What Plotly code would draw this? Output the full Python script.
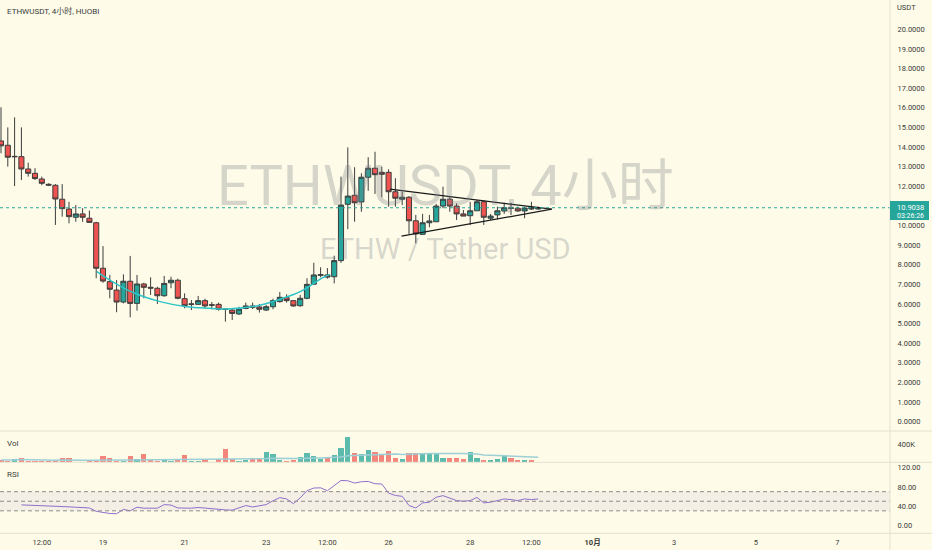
import plotly.graph_objects as go
import pandas as pd

# ---------------- data ----------------
symbol_title = "ETHWUSDT, 4小时, HUOBI"
wm_line1 = "ETHWUSDT, 4小时"
wm_line2 = "ETHW / Tether USD"
start_time = "2022-09-16 12:00"   # first visible 4h candle

opens = [14.31, 14.09, 13.50, 13.51, 12.88, 12.66, 12.37, 12.10, 12.05, 11.34,
         10.84, 10.42, 10.59, 10.37, 10.14, 7.82, 7.14, 6.71, 6.10, 7.16,
         6.03, 7.02, 6.85, 6.80, 6.42, 7.08, 7.21, 6.27, 5.98, 5.98,
         6.17, 5.96, 5.98, 5.74, 5.69, 5.49, 5.77, 5.90, 5.85, 5.69,
         5.86, 6.12, 6.32, 6.17, 5.91, 6.29, 7.01, 7.46, 7.48, 7.39,
         8.21, 11.08, 11.54, 11.20, 12.46, 12.92, 12.71, 12.71, 11.72, 11.34,
         11.44, 10.24, 9.55, 10.14, 10.19, 10.99, 11.34, 10.99, 10.59, 10.50,
         10.75, 11.21, 10.37, 10.54, 10.74, 10.90, 10.88, 10.74, 10.91, 10.84]
highs = [16.03, 15.00, 15.51, 15.00, 13.20, 12.92, 12.49, 12.15, 12.11, 12.11,
         11.21, 11.04, 10.88, 10.76, 10.19, 8.95, 7.48, 7.22, 7.51, 8.45,
         7.48, 7.08, 7.36, 6.88, 7.43, 7.39, 7.29, 6.54, 6.20, 6.41,
         6.27, 6.10, 6.07, 5.78, 5.78, 5.86, 6.07, 6.07, 6.00, 5.95,
         6.27, 6.61, 6.49, 6.20, 6.46, 7.31, 8.10, 7.87, 7.83, 8.46,
         12.49, 13.98, 12.97, 12.66, 13.48, 13.76, 13.00, 12.86, 12.41, 11.72,
         11.50, 10.54, 10.59, 10.54, 11.10, 11.98, 11.47, 11.13, 10.79, 11.21,
         11.30, 11.30, 10.59, 10.96, 11.16, 11.16, 10.96, 10.96, 11.21, 10.96]
lows = [13.68, 13.00, 12.01, 12.32, 12.49, 12.32, 12.05, 12.01, 10.03, 10.45,
        10.11, 10.19, 10.19, 10.14, 7.31, 7.08, 6.29, 5.58, 6.03, 5.32,
        5.66, 6.29, 6.46, 6.00, 6.37, 6.80, 6.24, 5.78, 5.69, 5.95,
        5.78, 5.73, 5.66, 5.10, 5.18, 5.44, 5.73, 5.74, 5.56, 5.64,
        5.73, 6.07, 6.07, 5.86, 5.86, 6.24, 6.97, 7.36, 7.29, 7.05,
        8.10, 9.81, 10.19, 10.70, 11.77, 11.61, 11.44, 10.96, 10.96, 11.04,
        9.57, 9.09, 9.52, 9.91, 10.19, 10.88, 10.70, 10.28, 10.48, 10.03,
        10.75, 10.03, 10.28, 10.32, 10.59, 10.54, 10.70, 10.37, 10.79, 10.80]
closes = [14.06, 13.48, 13.52, 12.88, 12.66, 12.39, 12.15, 12.06, 11.35, 10.86,
          10.45, 10.59, 10.42, 10.16, 7.82, 7.17, 6.75, 6.10, 7.16, 6.03,
          7.02, 6.85, 6.81, 6.42, 7.05, 7.21, 6.29, 5.91, 6.00, 6.17,
          5.90, 5.94, 5.73, 5.72, 5.52, 5.74, 5.90, 5.83, 5.73, 5.86,
          6.17, 6.34, 6.17, 5.90, 6.29, 7.00, 7.48, 7.49, 7.37, 8.21,
          11.04, 11.50, 11.16, 12.46, 12.92, 12.59, 12.61, 11.72, 11.39, 11.44,
          10.24, 9.57, 10.14, 10.23, 10.99, 11.34, 10.99, 10.59, 10.48, 10.75,
          11.21, 10.42, 10.48, 10.75, 10.91, 10.88, 10.74, 10.89, 10.84, 10.9038]
volumes_k = [53, 38, 69, 99, 30, 23, 23, 23, 30, 99,
             99, 15, 8, 23, 23, 130, 99, 23, 23, 130,
             69, 190, 53, 23, 69, 38, 69, 168, 23, 23,
             69, 15, 69, 297, 69, 30, 53, 69, 69, 221,
             190, 57, 33, 57, 114, 204, 139, 73, 98, 155,
             318, 563, 204, 180, 286, 237, 180, 253, 98, 73,
             204, 204, 204, 204, 180, 98, 98, 98, 73, 220,
             98, 57, 57, 73, 139, 98, 41, 41, 57, 8]
rsi = [None, None, None, 42.4, 42.0, 41.5, 41.0, 40.5, 39.5, 39.0,
       38.3, 37.5, 37.0, 36.0, 29.0, 26.5, 24.5, 24.0, 33.0, 30.0,
       37.6, 35.5, 35.5, 35.5, 43.0, 42.0, 36.0, 35.5, 35.5, 37.0,
       35.5, 35.0, 34.0, 32.0, 31.4, 37.0, 41.0, 38.0, 40.0, 43.0,
       51.0, 57.6, 54.8, 45.0, 57.0, 72.0, 77.6, 78.0, 72.0, 82.4,
       93.4, 92.8, 88.0, 90.7, 91.4, 86.5, 86.0, 67.0, 62.0, 60.3,
       41.0, 36.0, 46.6, 48.0, 58.3, 61.7, 57.0, 51.4, 50.0, 51.4,
       58.0, 46.6, 48.0, 52.0, 54.8, 53.4, 51.4, 54.8, 53.4, 54.8]
last_price = 10.9038
countdown = "03:26:26"

# drawings (candle index, price)
tri_upper_idx = [57.2, 81.0]
tri_upper_px = [11.85, 10.83]
tri_lower_idx = [58.9, 81.0]
tri_lower_px = [9.46, 10.83]
arc_idx = [14.1, 16.0, 19.5, 23.4, 27.3, 30.7, 33.2, 37.6, 41.0, 44.0, 47.4, 48.4]
arc_px = [7.65, 7.22, 6.57, 6.12, 5.86, 5.78, 5.74, 5.90, 6.24, 6.63, 7.36, 7.51]

price_ticks = list(range(0, 21))
vol_ticks = [400000]
vol_tick_text = ["400K"]
rsi_ticks = [0, 40, 80, 120]
rsi_levels = [70, 50, 30]
x_tick_vals = ["2022-09-17 12:00", "2022-09-19", "2022-09-21", "2022-09-23",
               "2022-09-24 12:00", "2022-09-26", "2022-09-28", "2022-09-29 12:00",
               "2022-10-01", "2022-10-03", "2022-10-05", "2022-10-07"]
x_tick_text = ["12:00", "19", "21", "23", "12:00", "26", "28", "12:00",
               "<b>10月</b>", "3", "5", "7"]

# ---------------- styling / geometry ----------------
W, H = 932, 550
BG = "#FEFCE8"
UP = "#26A69A"
DOWN = "#EF5350"
EDGE = "#3c3c3c"
SEP = "#E4E2CF"
TXT = "#3b3b3b"
FONT = "Roboto, Noto Sans CJK SC, sans-serif"
PLOT_R = 890          # px, right edge of plot area
BAR_PX = 6.8          # px per 4h bar
P_BOT, V_BOT, R_BOT = 431, 462.3, 533.3

def py(px):
    return 1 - px / H

t0 = pd.Timestamp(start_time)
bar = pd.Timedelta(hours=4)
times = [t0 + bar * i for i in range(len(opens))]
def idx_time(ix):
    return [t0 + bar * v for v in ix]

x_start = t0 - bar * (1 / BAR_PX)
x_end = x_start + bar * (PLOT_R / BAR_PX)

vol = [v * 1000 for v in volumes_k]
vol_ma = pd.Series(vol).rolling(20, min_periods=1).mean().tolist()
vol_colors = ["rgba(38,166,154,0.75)" if c >= o else "rgba(239,83,80,0.7)"
              for o, c in zip(opens, closes)]

fig = go.Figure()

fig.add_trace(go.Candlestick(
    x=times, open=opens, high=highs, low=lows, close=closes,
    xaxis="x", yaxis="y", whiskerwidth=0,
    increasing=dict(fillcolor=UP, line=dict(color=EDGE, width=1)),
    decreasing=dict(fillcolor=DOWN, line=dict(color=EDGE, width=1)),
    showlegend=False, hoverinfo="skip"))

fig.add_trace(go.Scatter(x=idx_time(arc_idx), y=arc_px, mode="lines",
                         line=dict(color="#2EC4C8", width=1.5, shape="spline"),
                         xaxis="x", yaxis="y", showlegend=False, hoverinfo="skip"))
fig.add_trace(go.Scatter(x=idx_time(tri_upper_idx), y=tri_upper_px, mode="lines",
                         line=dict(color="#1a1a1a", width=1.3),
                         xaxis="x", yaxis="y", showlegend=False, hoverinfo="skip"))
fig.add_trace(go.Scatter(x=idx_time(tri_lower_idx), y=tri_lower_px, mode="lines",
                         line=dict(color="#1a1a1a", width=1.3),
                         xaxis="x", yaxis="y", showlegend=False, hoverinfo="skip"))

fig.add_trace(go.Bar(x=times, y=vol, marker=dict(color=vol_colors, line=dict(width=0)),
                     width=4 * 3600 * 1000 * 0.78, xaxis="x", yaxis="y2",
                     showlegend=False, hoverinfo="skip"))
fig.add_trace(go.Scatter(x=times, y=vol_ma, mode="lines",
                         line=dict(color="#9DCFD6", width=1.5),
                         xaxis="x", yaxis="y2", showlegend=False, hoverinfo="skip"))

fig.add_trace(go.Scatter(x=times, y=rsi, mode="lines",
                         line=dict(color="#8E6FCB", width=1),
                         xaxis="x", yaxis="y3", showlegend=False, hoverinfo="skip"))

tickfont = dict(family=FONT, size=7.5, color=TXT)
xd = PLOT_R / W

fig.update_layout(
    width=W, height=H, margin=dict(l=0, r=0, t=0, b=0, autoexpand=False),
    paper_bgcolor=BG, plot_bgcolor=BG,
    boxgap=0.25, boxgroupgap=0, bargap=0,
    xaxis=dict(domain=[0, xd], anchor="y3", type="date",
               range=[x_start, x_end], tickvals=x_tick_vals, ticktext=x_tick_text,
               showgrid=False, zeroline=False, showline=False,
               ticks="outside", ticklen=2, tickcolor="rgba(0,0,0,0)",
               tickfont=tickfont, rangeslider=dict(visible=False)),
    yaxis=dict(domain=[py(P_BOT), 1], anchor="x", side="right",
               range=[-0.474, 21.493], tickvals=price_ticks,
               ticktext=[f"{v:.4f}" for v in price_ticks],
               showgrid=False, zeroline=False, showline=False,
               ticks="outside", ticklen=3, tickcolor="rgba(0,0,0,0)",
               ticklabelstandoff=2, tickfont=tickfont),
    yaxis2=dict(domain=[py(V_BOT), py(P_BOT)], anchor="x", side="right",
                range=[0, 700000], tickvals=vol_ticks, ticktext=vol_tick_text,
                showgrid=False, zeroline=False, showline=False,
                ticks="outside", ticklen=3, tickcolor="rgba(0,0,0,0)",
                ticklabelstandoff=2, tickfont=tickfont),
    yaxis3=dict(domain=[py(R_BOT), py(V_BOT)], anchor="x", side="right",
                range=[-16.9, 131.3], tickvals=rsi_ticks,
                ticktext=[f"{v:.2f}" for v in rsi_ticks],
                showgrid=False, zeroline=False, showline=False,
                ticks="outside", ticklen=3, tickcolor="rgba(0,0,0,0)",
                ticklabelstandoff=2, tickfont=tickfont),
)

shapes = []
# RSI band and levels
shapes.append(dict(type="rect", xref="paper", yref="y3", x0=0, x1=xd,
                   y0=rsi_levels[2], y1=rsi_levels[0],
                   fillcolor="rgba(126,87,194,0.08)", line=dict(width=0), layer="below"))
for lv in rsi_levels:
    shapes.append(dict(type="line", xref="paper", yref="y3", x0=0, x1=xd, y0=lv, y1=lv,
                       line=dict(color="#8c8c8c", width=1, dash="4px,3px")))
# last price line
shapes.append(dict(type="line", xref="paper", yref="y", x0=0, x1=xd,
                   y0=last_price, y1=last_price,
                   line=dict(color=UP, width=1, dash="dot")))
# pane separators
for sp in (P_BOT, V_BOT, R_BOT):
    shapes.append(dict(type="line", xref="paper", yref="paper", x0=0, x1=1,
                       y0=py(sp), y1=py(sp), line=dict(color=SEP, width=1)))
shapes.append(dict(type="line", xref="paper", yref="paper", x0=xd, x1=xd, y0=0, y1=1,
                   line=dict(color=SEP, width=1)))
# price label box
shapes.append(dict(type="rect", xref="paper", yref="paper", x0=xd, x1=929 / W,
                   y0=py(220), y1=py(201), fillcolor=UP, line=dict(width=0)))
fig.update_layout(shapes=shapes)

ann = []
def label(text, xpx, ypx, size=8, color=TXT, xanchor="left", family=FONT):
    ann.append(dict(text=text, x=xpx / W, y=py(ypx), xref="paper", yref="paper",
                    xanchor=xanchor, yanchor="middle", showarrow=False,
                    font=dict(family=family, size=size, color=color)))

label(symbol_title, 5, 11.5, size=8)
label("Vol", 5, 443, size=8)
label("RSI", 5, 474.5, size=8)
label("USDT", 895, 8, size=7.5)
label(f"{last_price:.4f}", 895, 207, size=7.5, color="white")
label(countdown, 895, 215.5, size=7, color="white")
wm_color = "rgba(120,123,134,0.30)"
label(wm_line1, 445, 186, size=56, color=wm_color, xanchor="center")
label(wm_line2, 445, 249, size=29, color=wm_color, xanchor="center")
fig.update_layout(annotations=ann)

fig.write_html("out.html",
               config={"displayModeBar": False, "staticPlot": True},
               post_script="document.body.style.margin='0';"
                           "document.body.style.overflow='hidden';")
